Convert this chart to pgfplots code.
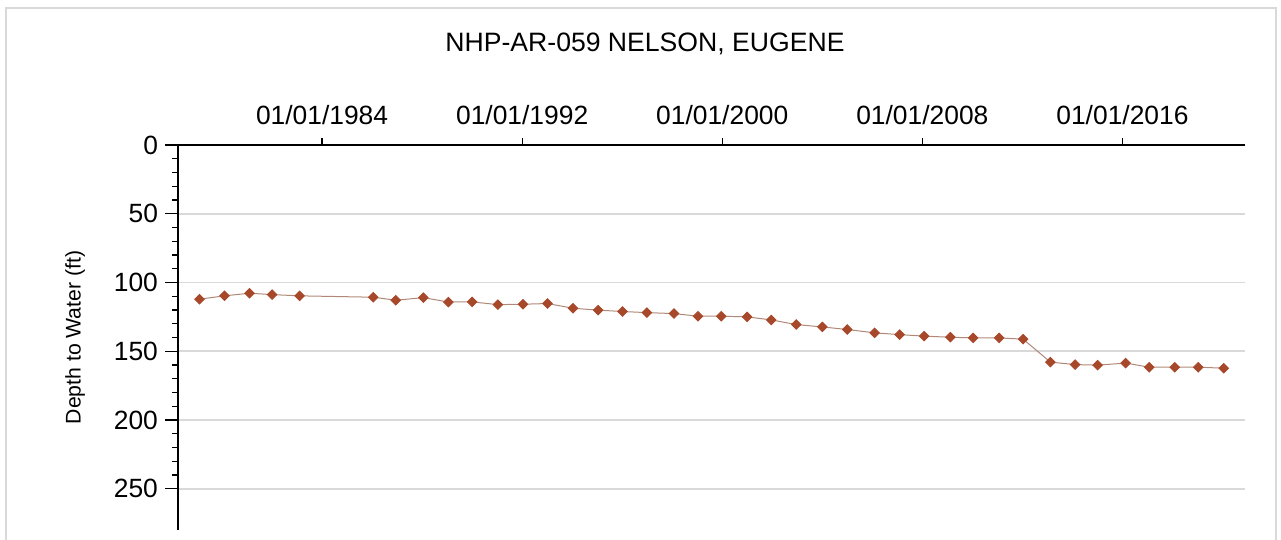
\documentclass[border=0pt]{standalone}
\usepackage{fontspec}
\setmainfont{Liberation Sans}
\usepackage{pgfplots}
\pgfplotsset{compat=1.18}
\definecolor{mk}{HTML}{A8482A}
\definecolor{ln}{HTML}{B08878}
\begin{document}
\begin{tikzpicture}
\path[use as bounding box] (-89pt,-197.5pt) rectangle (551.5pt,72.5pt);
\draw[black!15, line width=1.2pt] (-86pt,-205pt) -- (-86pt,68.5pt) -- (549pt,68.5pt) -- (549pt,-205pt);
\node[font=\fontsize{13.3}{16}\selectfont] at (233.5pt,50.5pt) {NHP-AR-059 NELSON, EUGENE};
\begin{axis}[
  at={(0pt,0pt)}, anchor=north west,
  scale only axis, width=533.5pt, height=192.5pt,
  xmin=1978.24, xmax=2020.9, ymin=0, ymax=280,
  y dir=reverse,
  axis x line*=top, axis y line*=left,
  axis line style={black, line width=1.2pt},
  xtick={1984,1992,2000,2008,2016},
  xticklabels={01/01/1984,01/01/1992,01/01/2000,01/01/2008,01/01/2016},
  ytick={0,50,100,150,200,250},
  minor y tick num=4,
  tick align=outside,
  major tick length=6.5pt, minor tick length=3pt,
  xtick style={/pgfplots/major tick length=3.5pt},
  tick style={black, line width=0.6pt},
  ymajorgrids,
  major grid style={black!15, line width=0.9pt},
  tick label style={font=\fontsize{13.2}{15}\selectfont},
  /pgf/number format/assume math mode=true,
  ylabel={Depth to Water (ft)},
  ylabel style={font=\fontsize{10.6}{12}\selectfont, at={(axis description cs:-0.0965,0.5)}, anchor=center},
]
\addplot[color=ln, line width=0.5pt, mark=square*, mark size=1.65pt, mark options={fill=mk, draw=mk, rotate=45}] table {
x y
1979.1 112.1
1980.1 109.7
1981.1 107.8
1982.0 108.8
1983.1 109.7
1986.05 110.7
1986.95 112.9
1988.05 111.0
1989.05 114.2
1990.0 114.1
1991.03 116.1
1992.03 115.8
1993.01 115.3
1994.03 118.7
1995.04 120.1
1996.01 121.1
1996.99 121.9
1998.07 122.6
1999.03 124.5
1999.96 124.5
2000.99 125.0
2001.96 127.2
2002.96 130.6
2004.0 132.3
2005.0 134.2
2006.09 136.6
2007.09 137.9
2008.07 139.0
2009.12 139.8
2010.03 140.3
2011.07 140.3
2012.03 141.2
2013.12 157.9
2014.11 159.7
2015.01 160.1
2016.13 158.6
2017.07 161.6
2018.09 161.6
2019.03 161.6
2020.05 162.3
};
\end{axis}
\end{tikzpicture}
\end{document}
